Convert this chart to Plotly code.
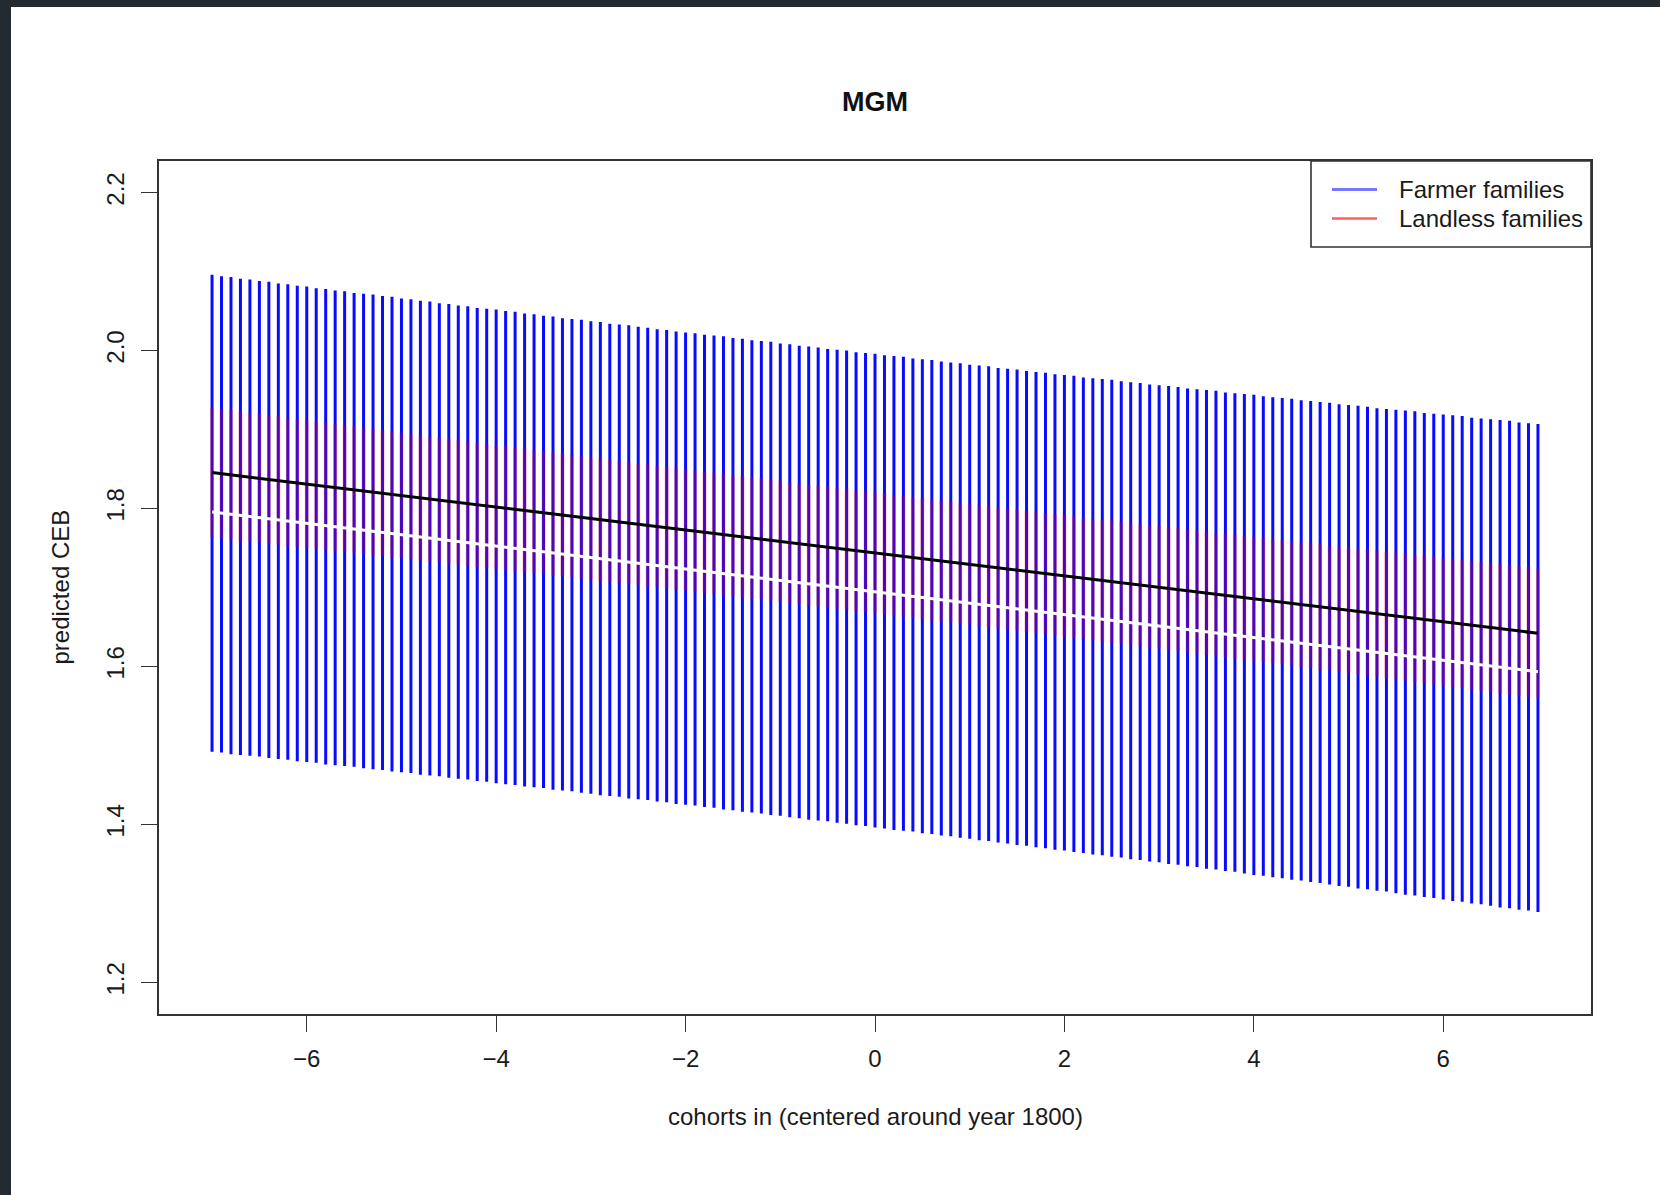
import plotly.graph_objects as go

# ---------------- data ----------------
cohort = [-7.0, -6.9, -6.8, -6.7, -6.6, -6.5, -6.4, -6.3, -6.2, -6.1,
          -6.0, -5.9, -5.8, -5.7, -5.6, -5.5, -5.4, -5.3, -5.2, -5.1,
          -5.0, -4.9, -4.8, -4.7, -4.6, -4.5, -4.4, -4.3, -4.2, -4.1,
          -4.0, -3.9, -3.8, -3.7, -3.6, -3.5, -3.4, -3.3, -3.2, -3.1,
          -3.0, -2.9, -2.8, -2.7, -2.6, -2.5, -2.4, -2.3, -2.2, -2.1,
          -2.0, -1.9, -1.8, -1.7, -1.6, -1.5, -1.4, -1.3, -1.2, -1.1,
          -1.0, -0.9, -0.8, -0.7, -0.6, -0.5, -0.4, -0.3, -0.2, -0.1,
          0.0, 0.1, 0.2, 0.3, 0.4, 0.5, 0.6, 0.7, 0.8, 0.9,
          1.0, 1.1, 1.2, 1.3, 1.4, 1.5, 1.6, 1.7, 1.8, 1.9,
          2.0, 2.1, 2.2, 2.3, 2.4, 2.5, 2.6, 2.7, 2.8, 2.9,
          3.0, 3.1, 3.2, 3.3, 3.4, 3.5, 3.6, 3.7, 3.8, 3.9,
          4.0, 4.1, 4.2, 4.3, 4.4, 4.5, 4.6, 4.7, 4.8, 4.9,
          5.0, 5.1, 5.2, 5.3, 5.4, 5.5, 5.6, 5.7, 5.8, 5.9,
          6.0, 6.1, 6.2, 6.3, 6.4, 6.5, 6.6, 6.7, 6.8, 6.9,
          7.0]

farmer_upper = [2.096, 2.094, 2.093, 2.091, 2.090, 2.088, 2.087, 2.085, 2.084, 2.082,
                2.081, 2.079, 2.078, 2.076, 2.075, 2.073, 2.072, 2.071, 2.069, 2.068,
                2.066, 2.065, 2.063, 2.062, 2.060, 2.059, 2.057, 2.056, 2.054, 2.053,
                2.052, 2.050, 2.049, 2.047, 2.046, 2.044, 2.043, 2.041, 2.040, 2.039,
                2.037, 2.036, 2.034, 2.033, 2.032, 2.030, 2.029, 2.027, 2.026, 2.024,
                2.023, 2.022, 2.020, 2.019, 2.018, 2.016, 2.015, 2.013, 2.012, 2.011,
                2.009, 2.008, 2.006, 2.005, 2.004, 2.002, 2.001, 2.000, 1.998, 1.997,
                1.996, 1.994, 1.993, 1.992, 1.990, 1.989, 1.988, 1.986, 1.985, 1.984,
                1.982, 1.981, 1.980, 1.978, 1.977, 1.976, 1.974, 1.973, 1.972, 1.970,
                1.969, 1.968, 1.966, 1.965, 1.964, 1.963, 1.961, 1.960, 1.959, 1.957,
                1.956, 1.955, 1.954, 1.952, 1.951, 1.950, 1.949, 1.947, 1.946, 1.945,
                1.944, 1.942, 1.941, 1.940, 1.939, 1.937, 1.936, 1.935, 1.934, 1.932,
                1.931, 1.930, 1.929, 1.927, 1.926, 1.925, 1.924, 1.923, 1.921, 1.920,
                1.919, 1.918, 1.917, 1.915, 1.914, 1.913, 1.912, 1.911, 1.909, 1.908,
                1.907]

farmer_lower = [1.492, 1.491, 1.489, 1.488, 1.487, 1.486, 1.484, 1.483, 1.482, 1.480,
                1.479, 1.478, 1.476, 1.475, 1.474, 1.473, 1.471, 1.470, 1.469, 1.467,
                1.466, 1.465, 1.463, 1.462, 1.461, 1.459, 1.458, 1.457, 1.455, 1.454,
                1.452, 1.451, 1.450, 1.448, 1.447, 1.446, 1.444, 1.443, 1.442, 1.440,
                1.439, 1.437, 1.436, 1.435, 1.433, 1.432, 1.431, 1.429, 1.428, 1.426,
                1.425, 1.424, 1.422, 1.421, 1.419, 1.418, 1.416, 1.415, 1.414, 1.412,
                1.411, 1.409, 1.408, 1.406, 1.405, 1.404, 1.402, 1.401, 1.399, 1.398,
                1.396, 1.395, 1.393, 1.392, 1.391, 1.389, 1.388, 1.386, 1.385, 1.383,
                1.382, 1.380, 1.379, 1.377, 1.376, 1.374, 1.373, 1.371, 1.370, 1.368,
                1.367, 1.365, 1.364, 1.362, 1.361, 1.359, 1.358, 1.356, 1.355, 1.353,
                1.352, 1.350, 1.349, 1.347, 1.346, 1.344, 1.343, 1.341, 1.340, 1.338,
                1.336, 1.335, 1.333, 1.332, 1.330, 1.329, 1.327, 1.326, 1.324, 1.322,
                1.321, 1.319, 1.318, 1.316, 1.315, 1.313, 1.311, 1.310, 1.308, 1.307,
                1.305, 1.303, 1.302, 1.300, 1.299, 1.297, 1.295, 1.294, 1.292, 1.291,
                1.289]

landless_upper = [1.928, 1.926, 1.925, 1.923, 1.921, 1.920, 1.918, 1.917, 1.915, 1.913,
                  1.912, 1.910, 1.909, 1.907, 1.905, 1.904, 1.902, 1.901, 1.899, 1.898,
                  1.896, 1.894, 1.893, 1.891, 1.890, 1.888, 1.887, 1.885, 1.883, 1.882,
                  1.880, 1.879, 1.877, 1.876, 1.874, 1.873, 1.871, 1.870, 1.868, 1.866,
                  1.865, 1.863, 1.862, 1.860, 1.859, 1.857, 1.856, 1.854, 1.853, 1.851,
                  1.850, 1.848, 1.847, 1.845, 1.844, 1.842, 1.841, 1.839, 1.838, 1.836,
                  1.835, 1.833, 1.832, 1.830, 1.829, 1.828, 1.826, 1.825, 1.823, 1.822,
                  1.820, 1.819, 1.817, 1.816, 1.814, 1.813, 1.812, 1.810, 1.809, 1.807,
                  1.806, 1.804, 1.803, 1.802, 1.800, 1.799, 1.797, 1.796, 1.794, 1.793,
                  1.792, 1.790, 1.789, 1.787, 1.786, 1.785, 1.783, 1.782, 1.780, 1.779,
                  1.778, 1.776, 1.775, 1.774, 1.772, 1.771, 1.769, 1.768, 1.767, 1.765,
                  1.764, 1.763, 1.761, 1.760, 1.759, 1.757, 1.756, 1.755, 1.753, 1.752,
                  1.751, 1.749, 1.748, 1.747, 1.745, 1.744, 1.743, 1.741, 1.740, 1.739,
                  1.737, 1.736, 1.735, 1.733, 1.732, 1.731, 1.730, 1.728, 1.727, 1.726,
                  1.724]

landless_lower = [1.763, 1.762, 1.761, 1.759, 1.758, 1.757, 1.755, 1.754, 1.753, 1.751,
                  1.750, 1.749, 1.748, 1.746, 1.745, 1.744, 1.742, 1.741, 1.740, 1.738,
                  1.737, 1.736, 1.734, 1.733, 1.732, 1.730, 1.729, 1.728, 1.726, 1.725,
                  1.723, 1.722, 1.721, 1.719, 1.718, 1.717, 1.715, 1.714, 1.713, 1.711,
                  1.710, 1.708, 1.707, 1.706, 1.704, 1.703, 1.701, 1.700, 1.699, 1.697,
                  1.696, 1.694, 1.693, 1.692, 1.690, 1.689, 1.687, 1.686, 1.685, 1.683,
                  1.682, 1.680, 1.679, 1.677, 1.676, 1.674, 1.673, 1.672, 1.670, 1.669,
                  1.667, 1.666, 1.664, 1.663, 1.661, 1.660, 1.658, 1.657, 1.656, 1.654,
                  1.653, 1.651, 1.650, 1.648, 1.647, 1.645, 1.644, 1.642, 1.641, 1.639,
                  1.638, 1.636, 1.635, 1.633, 1.632, 1.630, 1.629, 1.627, 1.626, 1.624,
                  1.623, 1.621, 1.620, 1.618, 1.616, 1.615, 1.613, 1.612, 1.610, 1.609,
                  1.607, 1.606, 1.604, 1.603, 1.601, 1.599, 1.598, 1.596, 1.595, 1.593,
                  1.592, 1.590, 1.588, 1.587, 1.585, 1.584, 1.582, 1.580, 1.579, 1.577,
                  1.576, 1.574, 1.573, 1.571, 1.569, 1.568, 1.566, 1.564, 1.563, 1.561,
                  1.560]

fit_x = [-7.0, 7.0]
landless_fit = [1.8455, 1.642]   # black line
farmer_fit = [1.7957, 1.5933]    # white line

x_ticks = [-6, -4, -2, 0, 2, 4, 6]
y_ticks = [1.2, 1.4, 1.6, 1.8, 2.0, 2.2]
series_names = ["Farmer families", "Landless families"]

# ---------------- layout geometry ----------------
W, H = 1660, 1195
ML, MR, MT, MB = 159, 69, 161, 181
PW, PH = W - ML - MR, H - MT - MB
FONT = "Liberation Sans, Arial, Helvetica, sans-serif"
FS = 24


def px(xp):
    return (xp - ML) / PW


def py(yp):
    return (H - MB - yp) / PH


def segments(xs, lo, hi):
    X, Y = [], []
    for x, a, b in zip(xs, lo, hi):
        X += [x, x, None]
        Y += [a, b, None]
    return X, Y


fig = go.Figure()

bx, by = segments(cohort, farmer_lower, farmer_upper)
fig.add_trace(go.Scatter(x=bx, y=by, mode="lines", name=series_names[0],
                         line=dict(color="#0a0aff", width=3),
                         showlegend=False, hoverinfo="skip"))

rx, ry = segments(cohort, landless_lower, landless_upper)
fig.add_trace(go.Scatter(x=rx, y=ry, mode="lines", name=series_names[1],
                         line=dict(color="rgba(255,0,0,0.27)", width=4),
                         showlegend=False, hoverinfo="skip"))

fig.add_trace(go.Scatter(x=fit_x, y=landless_fit, mode="lines",
                         line=dict(color="#000000", width=3),
                         showlegend=False, hoverinfo="skip"))
fig.add_trace(go.Scatter(x=fit_x, y=farmer_fit, mode="lines",
                         line=dict(color="#ffffff", width=3),
                         showlegend=False, hoverinfo="skip"))

axis_common = dict(
    showgrid=False, zeroline=False, showline=True, mirror=True,
    linecolor="#333333", linewidth=1.6,
    ticks="outside", ticklen=16, tickwidth=1.4, tickcolor="#333333",
    tickfont=dict(family=FONT, size=FS, color="#1a1a1a"),
    automargin=False,
)

fig.update_xaxes(range=[-7.56, 7.56], tickmode="array", tickvals=x_ticks,
                 ticktext=["\u2212" + str(-v) if v < 0 else str(v) for v in x_ticks],
                 ticklabelstandoff=6, **axis_common)
fig.update_yaxes(range=[1.16, 2.24], tickmode="array", tickvals=y_ticks,
                 ticktext=["%.1f" % v for v in y_ticks], tickangle=-90,
                 ticklabelstandoff=8, **axis_common)

shapes = [
    # screenshot frame: white page on a dark window
    dict(type="rect", xref="paper", yref="paper", x0=px(11), x1=px(1665),
         y0=py(1200), y1=py(7), fillcolor="#ffffff", line=dict(width=0),
         layer="below"),
    # legend box
    dict(type="rect", xref="paper", yref="paper", x0=px(1311), x1=px(1591),
         y0=py(247), y1=py(161), fillcolor="rgba(0,0,0,0)",
         line=dict(color="#333333", width=1.6)),
    dict(type="line", xref="paper", yref="paper", x0=px(1332), x1=px(1377),
         y0=py(189.5), y1=py(189.5), line=dict(color="rgba(60,60,255,0.7)", width=3)),
    dict(type="line", xref="paper", yref="paper", x0=px(1332), x1=px(1377),
         y0=py(218.5), y1=py(218.5), line=dict(color="rgba(255,40,40,0.75)", width=2.5)),
]

annotations = [
    dict(text="<b>MGM</b>", xref="paper", yref="paper", x=0.5, y=py(102.5),
         xanchor="center", yanchor="middle", showarrow=False,
         font=dict(family=FONT, size=27, color="#111111")),
    dict(text="cohorts in (centered around year 1800)", xref="paper", yref="paper",
         x=0.5, y=py(1116), xanchor="center", yanchor="middle", showarrow=False,
         font=dict(family=FONT, size=FS, color="#1a1a1a")),
    dict(text="predicted CEB", xref="paper", yref="paper", x=px(60), y=0.5,
         xanchor="center", yanchor="middle", textangle=-90, showarrow=False,
         font=dict(family=FONT, size=FS, color="#1a1a1a")),
    dict(text=series_names[0], xref="paper", yref="paper", x=px(1397), y=py(189.5),
         xanchor="left", yanchor="middle", showarrow=False,
         font=dict(family=FONT, size=FS, color="#1a1a1a")),
    dict(text=series_names[1], xref="paper", yref="paper", x=px(1397), y=py(218.5),
         xanchor="left", yanchor="middle", showarrow=False,
         font=dict(family=FONT, size=FS, color="#1a1a1a")),
]

fig.update_layout(
    width=W, height=H,
    margin=dict(l=ML, r=MR, t=MT, b=MB, pad=0),
    paper_bgcolor="#242b30", plot_bgcolor="#ffffff",
    showlegend=False,
    shapes=shapes, annotations=annotations,
    font=dict(family=FONT),
)

fig.write_html("out.html", config={"displayModeBar": False})
